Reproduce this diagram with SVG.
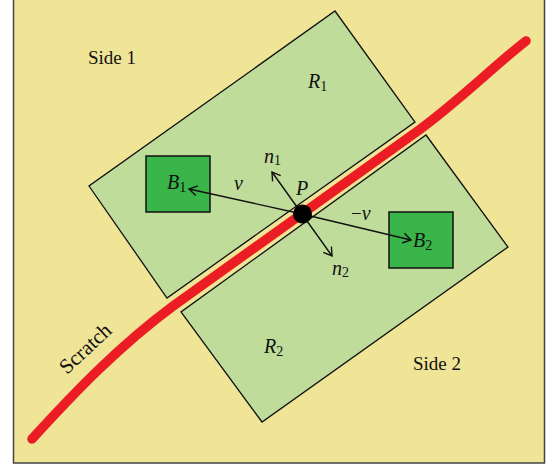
<svg xmlns="http://www.w3.org/2000/svg" width="546" height="465" viewBox="0 0 546 465">
<defs>
<style>
.region{fill:#bfdc9a;stroke:#111;stroke-width:1.3}
.box{fill:#3ab54a;stroke:#111;stroke-width:1.5}
.lbl{font-family:"Liberation Serif","DejaVu Serif",serif;font-size:19px;fill:#111}
.it{font-style:italic;font-size:20px}
.sub{font-size:14px;font-style:normal}
.arrow{stroke:#111;stroke-width:1.4;fill:none;marker-end:url(#head)}
</style>
<marker id="head" markerUnits="userSpaceOnUse" markerWidth="14" markerHeight="14" viewBox="-10 -7 12 14" refX="0" refY="0" orient="auto">
<path d="M-8,-5 L0,0 L-8,5" fill="none" stroke="#111" stroke-width="1.4"/>
</marker>
</defs>
<g id="frame">
<rect x="0" y="0" width="546" height="465" fill="#ffffff"/>
<rect x="13.5" y="-2" width="531" height="465" fill="#f0e496" stroke="#444" stroke-width="1.5"/>
</g>
<g id="R1"><polygon class="region" points="335,11 415,122 167,298 89,186"/></g>
<g id="R2"><polygon class="region" points="426,135 508,247 262,422 181,312"/></g>
<g id="B1"><rect class="box" x="146" y="156" width="64" height="56"/></g>
<g id="B2"><rect class="box" x="389" y="212" width="64" height="56"/></g>
<g id="scratch">
<path d="M32,439 C75,392 120,345 174,305.3 L420,129.3 C460,100 495,65 526,41" fill="none" stroke="#ec1c24" stroke-width="9.5" stroke-linecap="round" stroke-linejoin="round"/>
</g>
<g id="connectors">
<line class="arrow" x1="302" y1="214" x2="189" y2="189"/>
<line class="arrow" x1="302" y1="214" x2="411" y2="240"/>
<line class="arrow" x1="302" y1="214" x2="272" y2="172"/>
<line class="arrow" x1="302" y1="214" x2="332" y2="256"/>
</g>
<g id="P"><circle cx="302.5" cy="214" r="9.5" fill="#000"/></g>
<g id="labels">
<text class="lbl" x="88" y="64">Side 1</text>
<text class="lbl" x="413" y="370">Side 2</text>
<text class="lbl it" x="308" y="88">R<tspan class="sub" dy="3">1</tspan></text>
<text class="lbl it" x="264" y="353">R<tspan class="sub" dy="3">2</tspan></text>
<text class="lbl it" x="167" y="189">B<tspan class="sub" dy="3">1</tspan></text>
<text class="lbl it" x="413" y="247">B<tspan class="sub" dy="3">2</tspan></text>
<text class="lbl it" x="264" y="163">n<tspan class="sub" dy="2">1</tspan></text>
<text class="lbl it" x="332" y="275">n<tspan class="sub" dy="2">2</tspan></text>
<text class="lbl it" x="296" y="195">P</text>
<text class="lbl it" x="234" y="190">ν</text>
<text class="lbl" x="351" y="220">−<tspan class="it">ν</tspan></text>
<text class="lbl" x="0" y="0" style="font-size:21px" transform="translate(67,375) rotate(-43)">Scratch</text>
</g>
</svg>
